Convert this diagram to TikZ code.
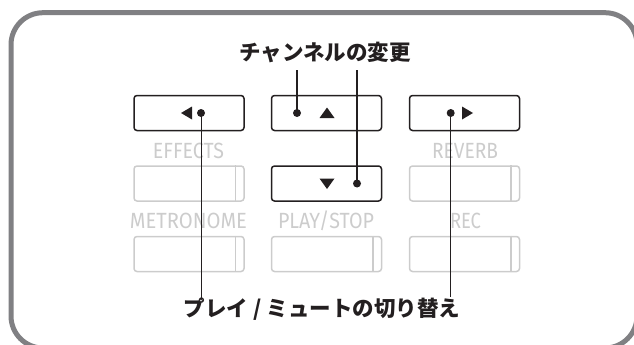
\documentclass[tikz,border=0pt]{standalone}
\usepackage{fontspec}
\setmainfont{Fira Sans}
\newfontfamily\cjk{Noto Sans CJK JP}
\usetikzlibrary{calc}
\definecolor{ink}{HTML}{231F20}
\definecolor{framegray}{HTML}{808083}
\definecolor{lightgray}{HTML}{CCCCCC}
\tikzset{
  btn/.style={draw=ink, line width=1.5pt, rounded corners=3pt, minimum width=110pt, minimum height=35pt, inner sep=0pt},
  gbtn/.style={draw=lightgray, line width=1.5pt, rounded corners=3pt, minimum width=110pt, minimum height=35pt, inner sep=0pt},
  glabel/.style={text=lightgray, inner sep=0pt, font=\fontsize{22}{22}\selectfont},
  jtitle/.style={text=ink, inner sep=0pt, font=\cjk\bfseries\fontsize{21.5}{22}\selectfont},
  dot/.style={circle, fill=ink, minimum size=8pt, inner sep=0pt},
  tri/.style={fill=ink},
  conn/.style={draw=ink, line width=1.3pt},
  connthin/.style={draw=ink, line width=0.9pt}
}
\newcommand{\glab}[2]{\resizebox{#1}{\height}{#2}}
\begin{document}
\begin{tikzpicture}[x=1pt,y=-1pt]
\useasboundingbox (0,0) rectangle (634,345);
% outer frame
\draw[line width=5pt, framegray, rounded corners=32pt] (11,12.7) rectangle (637,348);

% titles
\node[jtitle] (top) at (325,53) {チャンネルの変更};
\node[jtitle] (bottom) at (322,309) {プレイ / ミュートの切り替え};

% black buttons
\node[btn] (left) at (189,113) {};
\node[btn] (up) at (326.5,113) {};
\node[btn] (right) at (464.5,113) {};
\node[btn] (down) at (326.5,183.5) {};

% gray buttons
\node[gbtn] (eff) at (189,183.5) {};
\node[gbtn] (rev) at (464.5,183.5) {};
\node[gbtn] (met) at (189,254) {};
\node[gbtn] (play) at (326.5,254) {};
\node[gbtn] (rec) at (464.5,254) {};
\foreach \b in {eff,rev,met,play,rec}{
  \draw[lightgray, line width=1.5pt] ($(\b.north east)+(-9.5,0)$) -- ($(\b.south east)+(-9.5,0)$);
}

% gray labels
\node[glabel] (leff) at (188.5,150.5) {\glab{71pt}{EFFECTS}};
\node[glabel] (lrev) at (465,150.5) {\glab{66pt}{REVERB}};
\node[glabel] (lmet) at (188.5,221) {\glab{117pt}{METRONOME}};
\node[glabel] (lplay) at (326,221) {\glab{96pt}{PLAY/STOP}};
\node[glabel] (lrec) at (465.5,221) {\glab{31pt}{REC}};

% symbols
\node[dot] (dl) at (201,113) {};
\fill[tri] (181,113) -- (192,106.5) -- (192,119.5) -- cycle;
\node[dot] (du) at (297,113) {};
\fill[tri] (327,107.5) -- (334.5,118) -- (319.5,118) -- cycle;
\node[dot] (dr) at (450.7,113) {};
\fill[tri] (473,113) -- (462,106.5) -- (462,119.5) -- cycle;
\node[dot] (dd) at (357,183.5) {};
\fill[tri] (327,189) -- (334.5,178.5) -- (319.5,178.5) -- cycle;

% connectors
\coordinate (tu) at (297,70);
\coordinate (td) at (357,70);
\coordinate (bl) at (201,300.5);
\coordinate (br) at (450.7,297);
\draw[conn] (tu) -- (du.center);
\draw[conn] (td) -- (dd.center);
\draw[connthin] (dl.center) -- (bl);
\draw[connthin] (dr.center) -- (br);
\draw[ink, line width=0.6pt, fill=white] (bl) circle (1.5pt);
\end{tikzpicture}
\end{document}
